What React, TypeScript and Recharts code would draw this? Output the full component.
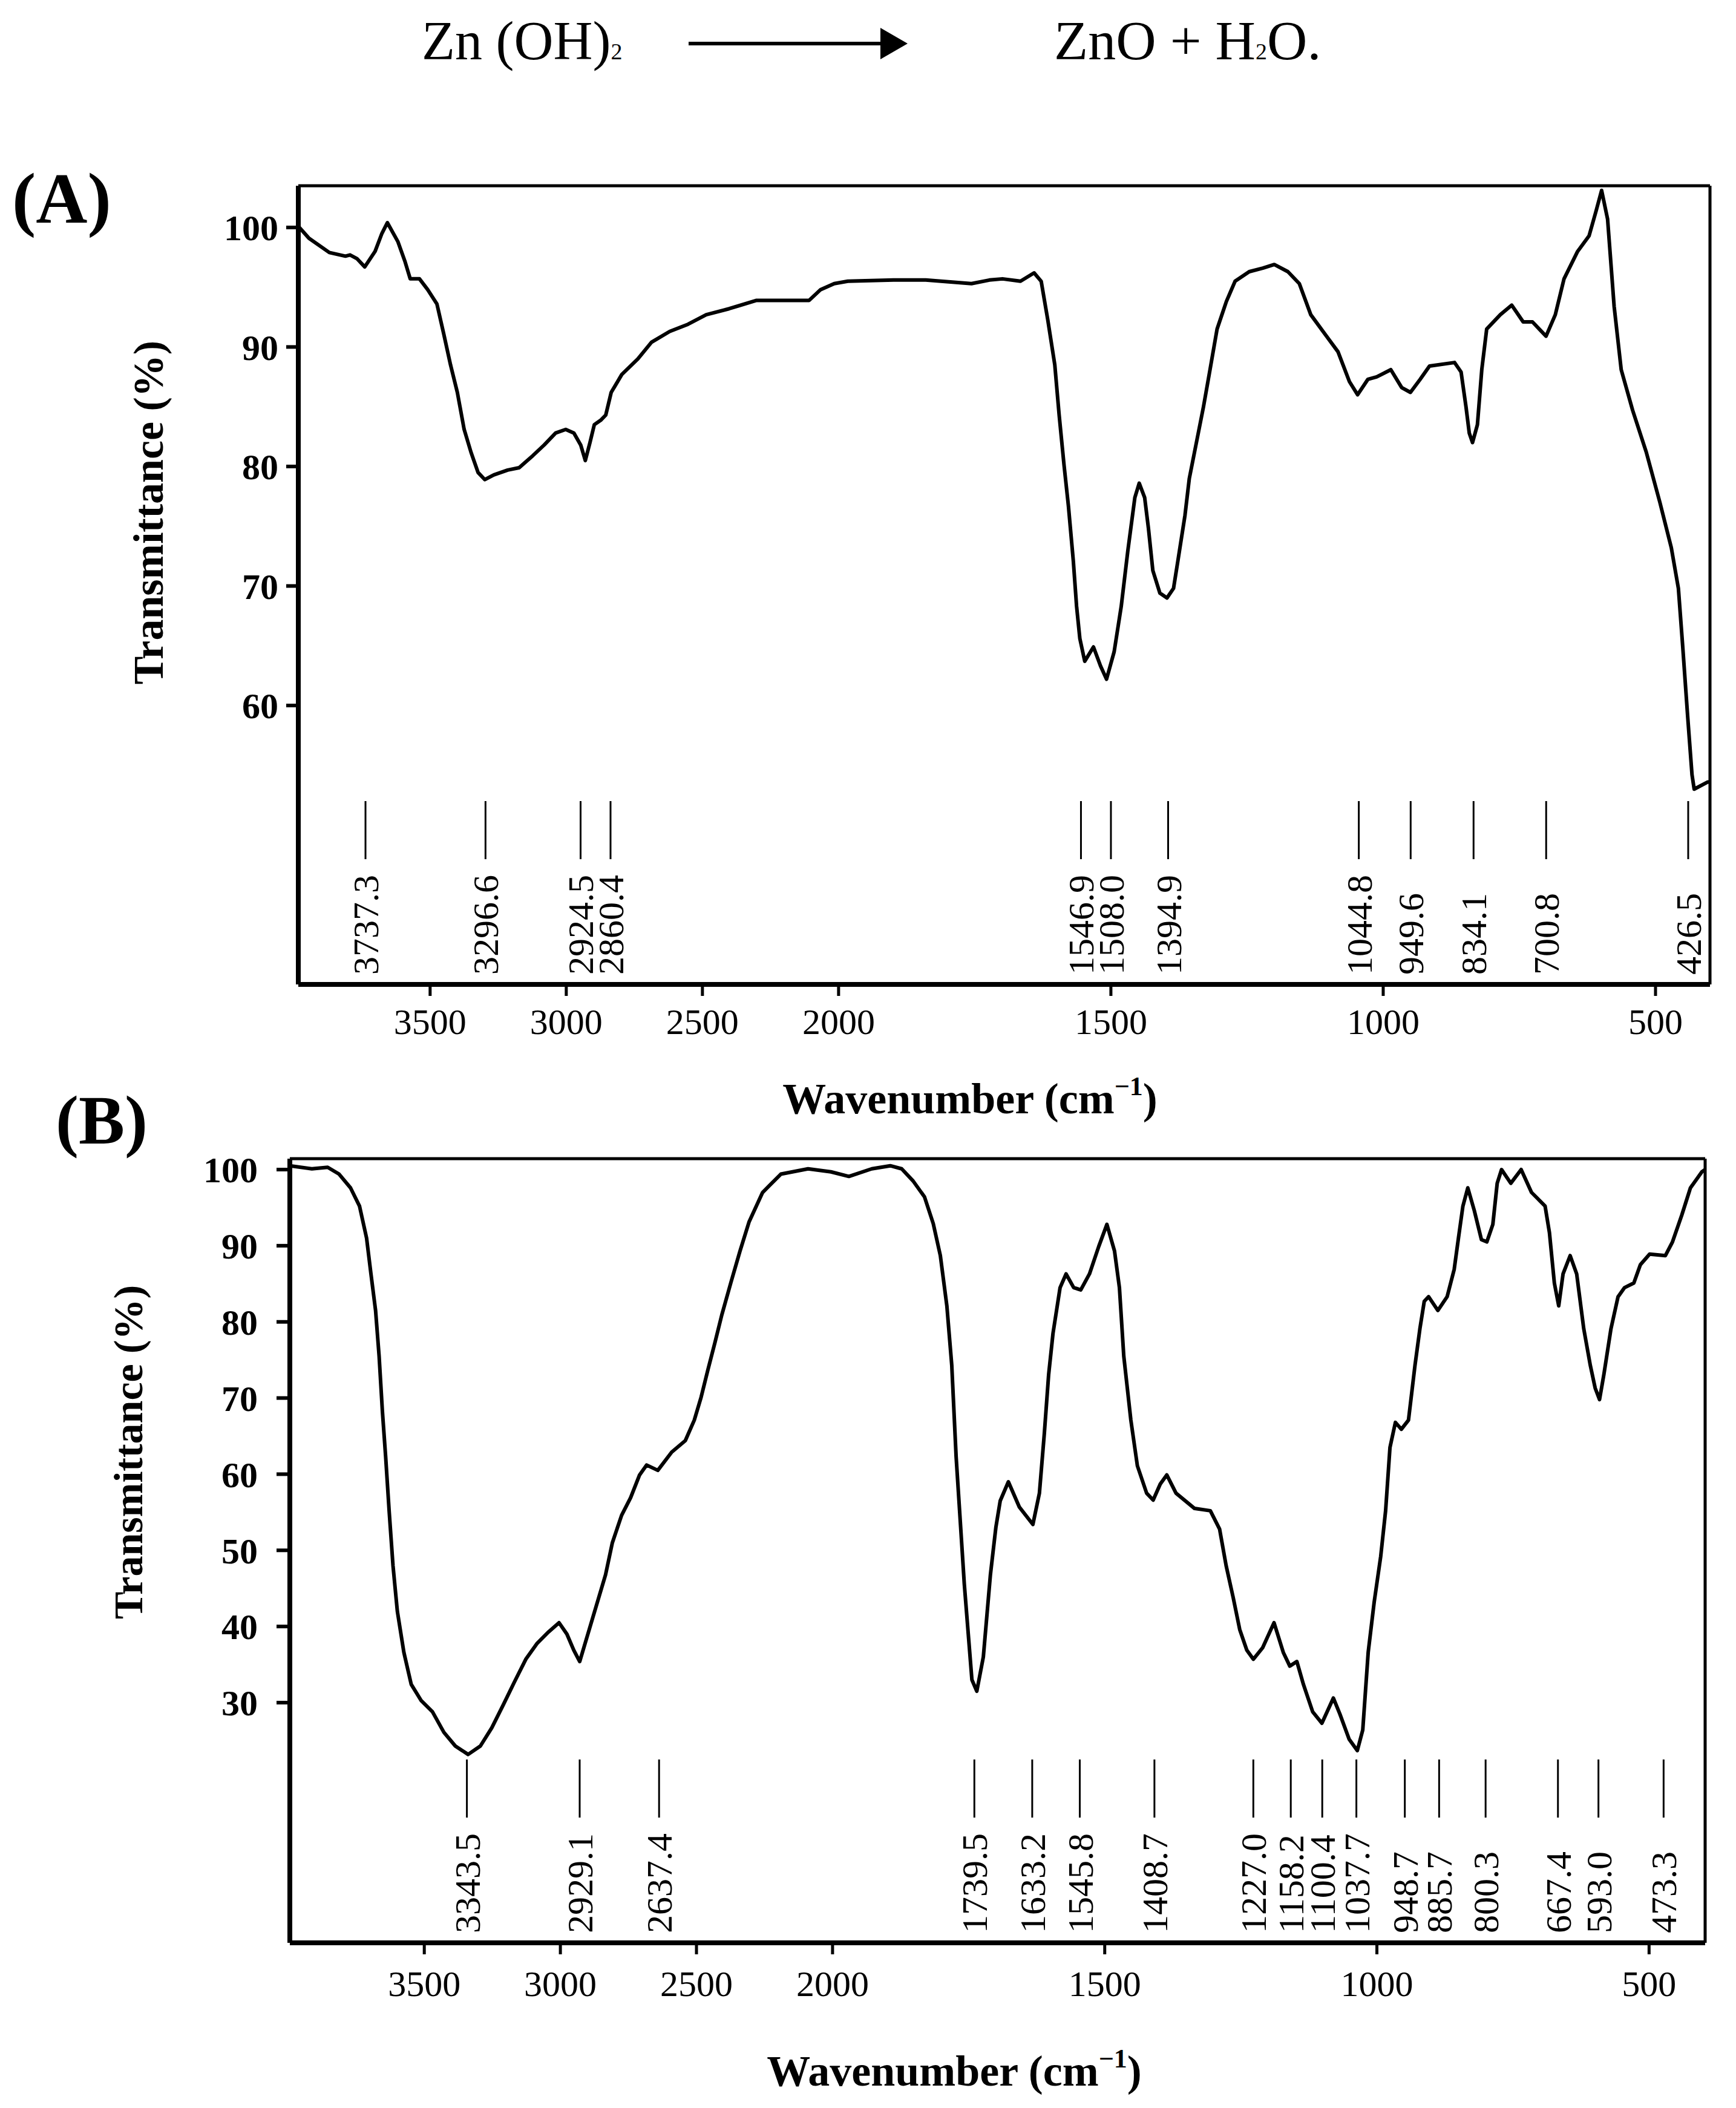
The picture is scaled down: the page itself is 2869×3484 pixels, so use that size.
import React from 'react';
import { ComposedChart, Line, Scatter, XAxis, YAxis, ReferenceLine } from 'recharts';

const FONT = '"Liberation Serif", "Times New Roman", serif';

// wavenumber axis is split at 2000 cm-1: 4000-2000 is drawn at half the scale of 2000-400
const toF = (wn: number) => (wn >= 2000 ? (4000 - wn) / 2 : 3000 - wn);
const fromF = (f: number) => (f <= 1000 ? 4000 - 2 * f : 3000 - f);

const xTickWn = [3500, 3000, 2500, 2000, 1500, 1000, 500];

// ---- (A) Zn(OH)2 ----
const wnA = [
  3984, 3945, 3870, 3811, 3794, 3769, 3740, 3702, 3677, 3657, 3618, 3593, 3573, 3539, 3509, 3475,
  3450, 3425, 3400, 3375, 3350, 3324, 3299, 3266, 3215, 3173, 3123, 3081, 3039, 3002, 2972, 2947,
  2930, 2913, 2897, 2872, 2855, 2835, 2796, 2737, 2687, 2620, 2553, 2486, 2402, 2301, 2108, 2066,
  2016, 1983, 1899, 1840, 1756, 1723, 1699, 1666, 1641, 1628, 1616, 1603, 1595, 1586, 1578, 1569,
  1563, 1557, 1548, 1532, 1519, 1508, 1494, 1481, 1469, 1456, 1448, 1438, 1431, 1423, 1410, 1397,
  1385, 1377, 1364, 1356, 1343, 1330, 1318, 1305, 1288, 1272, 1246, 1221, 1200, 1175, 1154, 1133,
  1104, 1083, 1062, 1047, 1028, 1012, 986, 966, 950, 932, 915, 869, 857, 848, 842, 836,
  827, 819, 810, 785, 764, 743, 726, 701, 684, 668, 643, 622, 609, 599, 588, 576,
  563, 542, 517, 492, 471, 458, 450, 441, 433, 429, 404, 400,
];
const tA = [
  100.1, 99.1, 97.9, 97.6, 97.7, 97.4, 96.7, 98.0, 99.5, 100.4, 98.8, 97.2, 95.7, 95.7, 94.8, 93.6,
  91.1, 88.5, 86.2, 83.1, 81.2, 79.5, 78.9, 79.3, 79.7, 79.9, 80.9, 81.8, 82.8, 83.1, 82.8, 81.8,
  80.5, 82.0, 83.5, 83.9, 84.3, 86.2, 87.7, 89.0, 90.4, 91.3, 91.9, 92.7, 93.2, 93.9, 93.9, 94.8,
  95.3, 95.5, 95.6, 95.6, 95.3, 95.6, 95.7, 95.5, 96.2, 95.5, 92.3, 88.5, 84.3, 80.1, 76.7, 72.1,
  68.3, 65.6, 63.7, 64.9, 63.3, 62.2, 64.5, 68.3, 72.9, 77.4, 78.6, 77.4, 74.8, 71.3, 69.4, 69.0,
  69.8, 72.1, 75.9, 79.0, 82.0, 85.0, 88.1, 91.5, 93.8, 95.5, 96.3, 96.6, 96.9, 96.3, 95.3, 92.7,
  90.9, 89.6, 87.1, 86.0, 87.3, 87.5, 88.1, 86.6, 86.2, 87.3, 88.4, 88.7, 87.9, 85.0, 82.8, 82.0,
  83.5, 88.1, 91.5, 92.7, 93.5, 92.1, 92.1, 90.9, 92.7, 95.7, 98.0, 99.3, 101.4, 103.1, 100.7, 93.4,
  88.1, 84.7, 81.2, 77.0, 73.2, 69.8, 64.9, 59.1, 54.2, 53.0, 53.6, 53.6,
];
const peaksA = [3737.3, 3296.6, 2924.5, 2860.4, 1546.9, 1508.0, 1394.9, 1044.8, 949.6, 834.1, 700.8, 426.5];
const yTicksA = [60, 70, 80, 90, 100];

// ---- (B) ----
const wnB = [
  3994, 3913, 3855, 3813, 3771, 3738, 3712, 3696, 3679, 3666, 3654, 3642, 3629, 3615, 3599, 3575,
  3548, 3512, 3470, 3428, 3386, 3339, 3294, 3252, 3210, 3169, 3127, 3085, 3043, 3005, 2976, 2951,
  2929, 2909, 2884, 2859, 2834, 2809, 2775, 2742, 2709, 2683, 2642, 2591, 2541, 2508, 2483, 2458,
  2432, 2407, 2374, 2340, 2307, 2257, 2190, 2090, 2006, 1970, 1928, 1894, 1873, 1852, 1831, 1815,
  1802, 1790, 1781, 1773, 1765, 1758, 1750, 1744, 1735, 1723, 1710, 1700, 1692, 1677, 1657, 1632,
  1620, 1611, 1603, 1595, 1582, 1571, 1557, 1544, 1528, 1511, 1496, 1482, 1473, 1465, 1452, 1440,
  1423, 1411, 1398, 1386, 1369, 1335, 1306, 1289, 1277, 1264, 1252, 1239, 1227, 1210, 1189, 1172,
  1160, 1147, 1135, 1118, 1101, 1080, 1068, 1051, 1036, 1026, 1016, 1005, 993, 984, 976, 966,
  955, 942, 930, 921, 913, 905, 888, 871, 858, 850, 842, 833, 821, 808, 798, 787,
  779, 771, 754, 735, 716, 691, 683, 674, 666, 658, 645, 633, 620, 608, 599, 591,
  583, 570, 557, 545, 528, 516, 499, 470, 457, 440, 424, 403, 397,
];
const tB = [
  100.5, 100.1, 100.3, 99.4, 97.6, 95.2, 91.0, 86.3, 81.5, 75.5, 68.3, 62.3, 55.1, 48.0, 42.0, 36.6,
  32.4, 30.3, 28.8, 26.1, 24.3, 23.2, 24.3, 26.7, 29.7, 32.7, 35.7, 37.8, 39.3, 40.5, 39.0, 36.9,
  35.4, 37.8, 40.8, 43.8, 46.8, 51.0, 54.6, 56.9, 59.9, 61.2, 60.5, 62.9, 64.4, 67.1, 70.1, 73.7,
  77.3, 80.9, 85.1, 89.3, 93.1, 97.0, 99.4, 100.1, 99.7, 99.1, 100.1, 100.5, 100.1, 98.5, 96.4, 92.9,
  88.7, 82.1, 74.3, 62.3, 53.4, 45.6, 38.4, 33.0, 31.5, 36.0, 46.8, 53.0, 56.5, 59.0, 55.7, 53.4,
  57.5, 65.3, 73.1, 78.5, 84.5, 86.3, 84.5, 84.2, 86.3, 89.9, 92.8, 89.3, 84.5, 75.5, 67.1, 61.1,
  57.5, 56.6, 58.7, 59.9, 57.5, 55.5, 55.2, 52.8, 48.0, 43.8, 39.6, 36.9, 35.7, 37.2, 40.5, 36.6,
  34.8, 35.4, 32.4, 28.8, 27.3, 30.6, 28.5, 25.2, 23.7, 26.4, 36.6, 43.2, 49.2, 55.2, 63.5, 66.8,
  65.9, 67.1, 74.3, 79.1, 82.7, 83.3, 81.5, 83.3, 86.9, 91.1, 95.2, 97.6, 94.6, 90.8, 90.5, 92.8,
  98.2, 100.0, 98.2, 100.0, 97.0, 95.2, 91.7, 85.1, 82.1, 86.3, 88.7, 86.3, 79.1, 74.3, 71.3, 69.8,
  73.1, 79.1, 83.3, 84.5, 85.1, 87.5, 88.9, 88.7, 90.5, 94.0, 97.6, 99.7, 100.0,
];
const peaksB = [
  3343.5, 2929.1, 2637.4, 1739.5, 1633.2, 1545.8, 1408.7, 1227.0, 1158.2, 1100.4, 1037.7, 948.7,
  885.7, 800.3, 667.4, 593.0, 473.3,
];
const yTicksB = [30, 40, 50, 60, 70, 80, 90, 100];

// push neighbouring peak markers apart so their labels don't collide, keep them off the right frame
function spread(fs: number[], gap: number, maxF: number) {
  const xs = fs.slice();
  for (let it = 0; it < 60; it++) {
    if (xs[xs.length - 1] > maxF) xs[xs.length - 1] = maxF;
    for (let i = 1; i < xs.length; i++) {
      const d = xs[i] - xs[i - 1];
      if (d < gap) {
        const push = (gap - d) / 2;
        xs[i - 1] -= push;
        xs[i] += push;
      }
    }
  }
  if (xs[xs.length - 1] > maxF) xs[xs.length - 1] = maxF;
  return xs;
}

const PeakMark = (props: any) => {
  const { cx, cy, payload } = props;
  if (cx == null || cy == null) return null;
  const by = cy - 16;
  return (
    <g>
      <line x1={cx} x2={cx} y1={cy - 303} y2={cy - 207} stroke="#000" strokeWidth={3} />
      <text
        x={cx}
        y={by}
        dy="0.35em"
        transform={`rotate(-90 ${cx} ${by})`}
        fontFamily={FONT}
        fontSize={60}
        fill="#000"
      >
        {payload.wn.toFixed(1)}
      </text>
    </g>
  );
};

interface PanelProps {
  wn: number[];
  t: number[];
  peaks: number[];
  xDomain: number[];
  yDomain: number[];
  yTicks: number[];
  top: number;
  height: number;
  margin: { top: number; right: number; bottom: number; left: number };
  yTickSize: number;
  yTickMargin: number;
  xTickSize: number;
  xTickMargin: number;
}

const Panel: React.FC<PanelProps> = (p) => {
  const rows = p.wn.map((w, i) => ({ x: toF(w), t: p.t[i] }));
  const px = spread(p.peaks.map(toF), 55, p.xDomain[1] - 40);
  const peakRows = p.peaks.map((w, i) => ({ x: px[i], y: p.yDomain[0], wn: w }));
  return (
    <div style={{ position: 'absolute', left: 0, top: p.top, width: 2869, height: p.height }}>
      <ComposedChart width={2869} height={p.height} data={rows} margin={p.margin}>
        <XAxis
          dataKey="x"
          type="number"
          domain={p.xDomain}
          ticks={xTickWn.map(toF)}
          interval={0}
          tickFormatter={(v: number) => String(Math.round(fromF(v)))}
          height={1}
          tickSize={p.xTickSize}
          tickMargin={p.xTickMargin}
          axisLine={{ stroke: '#000', strokeWidth: 8 }}
          tickLine={{ stroke: '#000', strokeWidth: 5 }}
          tick={{ fill: '#000', fontFamily: FONT, fontSize: 60 }}
        />
        <YAxis
          type="number"
          domain={p.yDomain}
          ticks={p.yTicks}
          interval={0}
          width={1}
          tickSize={p.yTickSize}
          tickMargin={p.yTickMargin}
          axisLine={{ stroke: '#000', strokeWidth: 8 }}
          tickLine={{ stroke: '#000', strokeWidth: 6 }}
          tick={{ fill: '#000', fontFamily: FONT, fontSize: 60, fontWeight: 'bold' }}
        />
        <ReferenceLine y={p.yDomain[1]} stroke="#000" strokeWidth={5} />
        <ReferenceLine x={p.xDomain[1]} stroke="#000" strokeWidth={5} />
        <Line
          dataKey="t"
          type="linear"
          dot={false}
          stroke="#000"
          strokeWidth={6}
          strokeLinejoin="round"
          isAnimationActive={false}
        />
        <Scatter data={peakRows} dataKey="y" shape={PeakMark} isAnimationActive={false} />
      </ComposedChart>
    </div>
  );
};

export default function App() {
  return (
    <div style={{ position: 'absolute', left: 0, top: 0, width: 2869, height: 3484, background: '#fff' }}>
      <Panel
        wn={wnA}
        t={tA}
        peaks={peaksA}
        xDomain={[toF(3984), 2600]}
        yDomain={[36.66, 103.49]}
        yTicks={yTicksA}
        top={0}
        height={1900}
        margin={{ top: 307, right: 43, bottom: 272, left: 492 }}
        yTickSize={20}
        yTickMargin={13}
        xTickSize={19}
        xTickMargin={20}
      />
      <Panel
        wn={wnB}
        t={tB}
        peaks={peaksB}
        xDomain={[toF(3994), toF(397)]}
        yDomain={[-1.54, 101.43]}
        yTicks={yTicksB}
        top={1750}
        height={1734}
        margin={{ top: 165, right: 51, bottom: 272, left: 478 }}
        yTickSize={22}
        yTickMargin={31}
        xTickSize={19}
        xTickMargin={26}
      />
      <svg
        width={2869}
        height={3484}
        style={{ position: 'absolute', left: 0, top: 0, pointerEvents: 'none' }}
        fontFamily={FONT}
        fill="#000"
      >
        {/* reaction line above the plots */}
        <text x={697} y={98} fontSize={90}>
          Zn (OH)<tspan fontSize={38}>2</tspan>
        </text>
        <line x1={1138} x2={1462} y1={72} y2={72} stroke="#000" strokeWidth={6} />
        <polygon points="1455,46 1500,72 1455,98" fill="#000" />
        <text x={1742} y={98} fontSize={92}>
          ZnO + H<tspan fontSize={38}>2</tspan>O.
        </text>

        <text x={20} y={368} fontSize={118} fontWeight="bold">(A)</text>
        <text x={92} y={1890} fontSize={114} fontWeight="bold">(B)</text>

        <text
          x={245}
          y={847}
          fontSize={70}
          fontWeight="bold"
          textAnchor="middle"
          dominantBaseline="central"
          transform="rotate(-90 245 847)"
        >
          Transmittance (%)
        </text>
        <text
          x={212}
          y={2400}
          fontSize={68}
          fontWeight="bold"
          textAnchor="middle"
          dominantBaseline="central"
          transform="rotate(-90 212 2400)"
        >
          Transmittance (%)
        </text>

        <text x={1603} y={1840} fontSize={72} fontWeight="bold" textAnchor="middle">
          Wavenumber (cm<tspan fontSize={44} dy={-30}>−1</tspan><tspan dy={30}>)</tspan>
        </text>
        <text x={1577} y={3447} fontSize={72} fontWeight="bold" textAnchor="middle">
          Wavenumber (cm<tspan fontSize={44} dy={-30}>−1</tspan><tspan dy={30}>)</tspan>
        </text>
      </svg>
    </div>
  );
}
